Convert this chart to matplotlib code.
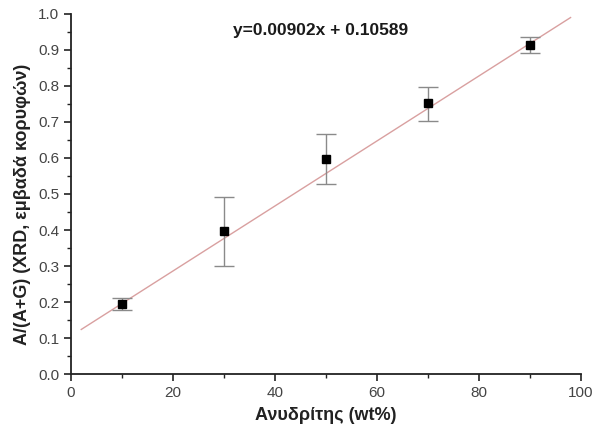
import matplotlib
matplotlib.use("Agg")
import matplotlib.pyplot as plt
import numpy as np
from matplotlib.ticker import MultipleLocator

plt.rcParams['font.family'] = ['Liberation Sans', 'DejaVu Sans']

# Anhydrite content and measured ratio with error bars
anhydrite_wt = [10, 30, 50, 70, 90]
ratio = [0.195, 0.397, 0.598, 0.752, 0.913]
err_low = [0.017, 0.098, 0.070, 0.048, 0.022]
err_high = [0.017, 0.095, 0.068, 0.045, 0.023]

# Linear fit
slope = 0.00902
intercept = 0.10589
fit_x_range = [2, 98]

fig = plt.figure(figsize=(5.92, 4.34), dpi=100)
ax = fig.add_axes([0.12, 0.138, 0.861, 0.830])

fx = np.array(fit_x_range, dtype=float)
ax.plot(fx, slope * fx + intercept, color='#d9a0a0', lw=1.0, zorder=1)

ax.errorbar(anhydrite_wt, ratio, yerr=[err_low, err_high], fmt='s',
            color='black', ms=6, ecolor='#8a8a8a', elinewidth=1.0,
            capsize=7, capthick=1.0, zorder=3)

ax.text(49.0, 0.955, f"y={slope:.5f}x + {intercept:.5f}", ha='center', va='center',
        fontsize=12.5, fontweight='bold', color='#1a1a1a')

ax.set_xlim(0, 100)
ax.set_ylim(0, 1.0)
ax.xaxis.set_major_locator(MultipleLocator(20))
ax.xaxis.set_minor_locator(MultipleLocator(10))
ax.yaxis.set_major_locator(MultipleLocator(0.1))
ax.yaxis.set_minor_locator(MultipleLocator(0.05))
ax.yaxis.set_major_formatter(matplotlib.ticker.FormatStrFormatter('%.1f'))

for s in ['top', 'right']:
    ax.spines[s].set_visible(False)
for s in ['left', 'bottom']:
    ax.spines[s].set_linewidth(1.3)
    ax.spines[s].set_color('#222222')

ax.tick_params(which='major', direction='out', length=5, width=1.2,
               labelsize=11, labelcolor='#444444', color='#222222')
ax.tick_params(which='minor', direction='out', length=3, width=1.0, color='#222222')

ax.set_xlabel('Ανυδρίτης (wt%)', fontsize=13, fontweight='bold', color='#222222', labelpad=5)
ax.set_ylabel('A/(A+G) (XRD, εμβαδά κορυφών)', fontsize=13, fontweight='bold',
              color='#222222')
ax.yaxis.set_label_coords(-0.078, 0.47)

fig.savefig('out.png', dpi=100)
